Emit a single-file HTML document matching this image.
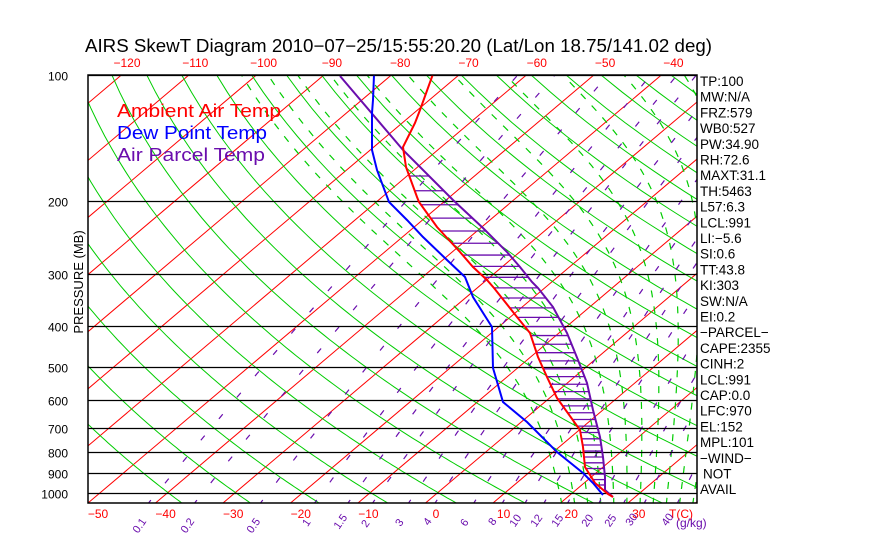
<!DOCTYPE html>
<html><head><meta charset="utf-8"><style>
html,body{margin:0;padding:0;background:#fff;width:870px;height:560px;overflow:hidden}
svg{display:block}
text{font-family:"Liberation Sans",sans-serif}
</style></head><body>
<svg id="s" width="870" height="560" xmlns="http://www.w3.org/2000/svg">
<defs><clipPath id="c"><rect x="88" y="75" width="609" height="428"/></clipPath></defs>
<g id="grid" clip-path="url(#c)"></g>
<g id="prof" clip-path="url(#c)"></g>
<rect x="88" y="75" width="609" height="428" fill="none" stroke="#000" stroke-width="1.5"/>
<text x="85" y="52" font-size="18" fill="#000" textLength="627" lengthAdjust="spacingAndGlyphs">AIRS SkewT Diagram 2010−07−25/15:55:20.20 (Lat/Lon 18.75/141.02 deg)</text>
<text x="117" y="117" font-size="18" fill="#f00" textLength="164" lengthAdjust="spacingAndGlyphs">Ambient Air Temp</text>
<text x="117" y="139" font-size="18" fill="#00f" textLength="150" lengthAdjust="spacingAndGlyphs">Dew Point Temp</text>
<text x="117" y="161" font-size="18" fill="#6a0dad" textLength="148" lengthAdjust="spacingAndGlyphs">Air Parcel Temp</text>
<text transform="translate(83,282) rotate(-90)" font-size="13" text-anchor="middle" fill="#000">PRESSURE (MB)</text>
<g id="lab"></g>
</svg>
<script>
var NS="http://www.w3.org/2000/svg";
function el(p,n,a,t){var e=document.createElementNS(NS,n);for(var k in a)e.setAttribute(k,a[k]);if(t!==undefined)e.textContent=t;p.appendChild(e);return e;}
var G=document.getElementById('grid'),P=document.getElementById('prof'),L=document.getElementById('lab');
function Y(p){return 75+417.5*Math.log10(p/100);}
function X(T,y){return 88+(T+50)*6.75+(503-y)*1.182;}
function poly(g,pts,st,w,da){el(g,'polyline',{points:pts.map(function(q){return q[0].toFixed(1)+','+q[1].toFixed(1)}).join(' '),fill:'none',stroke:st,'stroke-width':w,'stroke-dasharray':da||'none'});}
for(var T=-160;T<=60;T+=10){var y1=503,y2=75;el(G,'line',{x1:X(T,y1),y1:y1,x2:X(T,y2),y2:y2,stroke:'#f00','stroke-width':1});}
for(var th=-40;th<=260;th+=10){var pts=[];for(var p=1070;p>=95;p-=10){var t=(th+273.15)*Math.pow(p/1000,0.286)-273.15;var y=Y(p);pts.push([X(t,y),y]);}poly(G,pts,'#0c0',1);}
function es(t){return 6.112*Math.exp(17.67*t/(t+243.5));}
for(var tw=18;tw<=46;tw+=2){var pts=[];var tt=tw+273.15;
 for(var pp=1000;pp<1070;pp+=5){var rs=0.622*es(tt-273.15)/(pp-es(tt-273.15));var d=(287*tt+2.5e6*rs)/(pp*(1004+2.5e6*2.5e6*rs*0.622/(287*tt*tt)));tt+=d*5;}
 for(var pp=1070;pp>=100;pp-=5){var y=Y(pp);pts.push([X(tt-273.15,y),y]);var e=es(tt-273.15);var rs=0.622*e/(pp-e);var d=(287*tt+2.5e6*rs)/(pp*(1004+2.5e6*2.5e6*rs*0.622/(287*tt*tt)));tt-=d*5;}
 poly(G,pts,'#0c0',1.2,'7 9');}
var ws=[0.1,0.2,0.5,1,1.5,2,3,4,6,8,10,12,15,20,25,30,40];
ws.forEach(function(w){var pts=[];for(var p=1070;p>=95;p-=10){var e=w*p/(622+w);var l=Math.log(e/6.112);var td=243.5*l/(17.67-l);var y=Y(p);pts.push([X(td,y),y]);}poly(G,pts,'#6a0dad',1.2,'6 22');});
for(var p=100;p<=1000;p+=100){var y=Math.round(Y(p))+0.5;el(G,'line',{x1:88,y1:y,x2:697,y2:y,stroke:'#000','stroke-width':1.3});
 el(L,'text',{x:68,y:y+5,'font-size':12,'text-anchor':'end',fill:'#000'},String(p));}
var red=[[433,74],[420,110],[415,123],[403,147],[406,167],[417,197],[419,202],[437,227],[460,252],[473,267],[487,280],[494,288],[517,317],[530,333],[538,357],[547,377],[557,398],[580,430],[583,447],[585,467],[595,483],[608,494],[613,497]];
var blue=[[374,75],[373,100],[372,113],[372,150],[377,170],[389,202],[407,220],[423,237],[447,260],[465,277],[473,297],[492,327],[493,368],[503,402],[527,422],[557,452],[583,473],[593,483],[603,495]];
var pur=[[340,76],[403,150],[453,200],[483,228],[507,252],[520,267],[532,282],[538,288],[553,307],[567,333],[578,360],[587,383],[593,410],[600,437],[603,457],[605,477],[605,490],[613,497]];
function interp(a,y){for(var i=0;i<a.length-1;i++){if(y>=a[i][1]&&y<=a[i+1][1]){var f=(y-a[i][1])/(a[i+1][1]-a[i][1]||1);return a[i][0]+f*(a[i+1][0]-a[i][0]);}}return null;}
var y=176;while(y<494){var p=100*Math.pow(10,(y-75)/417.5);var xr=interp(red,y),xp=interp(pur,y);if(xr!==null&&xp!==null&&xp>xr)el(P,'line',{x1:xr,y1:y,x2:xp,y2:y,stroke:'#6a0dad','stroke-width':1.3});y+=Math.max(4.5,14*Math.pow(190/p,0.6));}
poly(P,pur,'#6a0dad',2);poly(P,red,'#f00',2);poly(P,blue,'#00f',2);
for(var k=0;k<=8;k++){var T=-50+10*k;el(L,'text',{x:98+67.6*k,y:518,'font-size':12,'text-anchor':'middle',fill:'#f00'},T<0?'−'+(-T):String(T));}
el(L,'text',{x:681,y:518,'font-size':12,'text-anchor':'middle',fill:'#f00'},'T(C)');
for(var k=0;k<=8;k++){var T=-120+10*k;el(L,'text',{x:127+68.3*k,y:67,'font-size':12,'text-anchor':'middle',fill:'#f00'},'−'+(-T));}
var ml=[['0.1',140,526],['0.2',188,526],['0.5',254,526],['1',307,523],['1.5',341,522],['2',366,524],['3',400,523],['4',428,522],['6',465,523],['8',493,522],['10',516,521],['12',537,521],['15',558,521],['20',588,521],['25',611,521],['30',632,520],['40',668,520]];
ml.forEach(function(m){el(L,'text',{transform:'translate('+m[1]+','+m[2]+') rotate(-55)','font-size':11,'text-anchor':'middle','dominant-baseline':'middle',fill:'#6a0dad'},m[0]);});
el(L,'text',{x:676,y:527,'font-size':12,fill:'#6a0dad'},'(g/kg)');
var rp=['TP:100','MW:N/A','FRZ:579','WB0:527','PW:34.90','RH:72.6','MAXT:31.1','TH:5463','L57:6.3','LCL:991','LI:−5.6','SI:0.6','TT:43.8','KI:303','SW:N/A','EI:0.2','−PARCEL−','CAPE:2355','CINH:2','LCL:991','CAP:0.0','LFC:970','EL:152','MPL:101','−WIND−','NOT','AVAIL'];
rp.forEach(function(s,i){el(L,'text',{x:(s=='NOT'?703:700),y:86+i*15.7,'font-size':13.5,fill:'#000'},s);});
</script>
</body></html>
